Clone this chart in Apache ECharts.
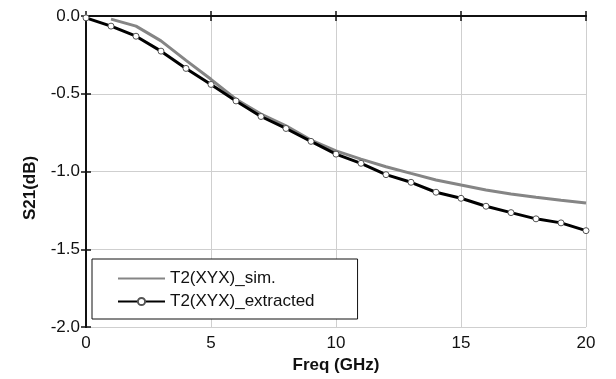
<!DOCTYPE html>
<html>
<head>
<meta charset="utf-8">
<script src="https://cdn.jsdelivr.net/npm/echarts@6/dist/echarts.min.js"></script>
<style>
  html, body { margin: 0; padding: 0; background: #fff; }
  #figure { width: 616px; height: 379px; }
</style>
</head>
<body>
<div id="figure"></div>
<script>
var freqExtracted = [0, 1, 2, 3, 4, 5, 6, 7, 8, 9, 10, 11, 12, 13, 14, 15, 16, 17, 18, 19, 20];
var s21Extracted = [-0.012, -0.065, -0.13, -0.226, -0.337, -0.44, -0.546, -0.646, -0.723, -0.806, -0.888,
    -0.947, -1.02, -1.069, -1.133, -1.172, -1.223, -1.264, -1.304, -1.33, -1.38];

var freqSim = [1, 2, 3, 4, 5, 6, 7, 8, 9, 10, 11, 12, 13, 14, 15, 16, 17, 18, 19, 20];
var s21Sim = [-0.02, -0.065, -0.16, -0.285, -0.407, -0.535, -0.631, -0.706, -0.798, -0.867,
    -0.92, -0.969, -1.012, -1.054, -1.087, -1.119, -1.144, -1.165, -1.185, -1.202];

var seriesNames = ['T2(XYX)_sim.', 'T2(XYX)_extracted'];

function pairs(xs, ys) {
    return xs.map(function(x, i) { return [x, ys[i]]; });
}

var font = 'Liberation Sans';
var frame = { lineStyle: { color: '#111', width: 2 } };
var ticksIn = { show: true, inside: true, length: 5, lineStyle: { color: '#111', width: 1.5 } };

var figure = echarts.init(document.getElementById('figure'));
var option = {
    animation: false,
    backgroundColor: '#fff',
    textStyle: { fontFamily: font },
    grid: { left: 86, right: 30, top: 16, bottom: 51 },
    legend: {
        orient: 'vertical',
        left: 92,
        top: 259,
        padding: [11, 43, 9, 25],
        itemWidth: 47,
        itemHeight: 9,
        itemGap: 6,
        borderColor: '#111',
        borderWidth: 1,
        backgroundColor: '#fff',
        textStyle: { fontSize: 17, color: '#111', fontFamily: font },
        data: [
            { name: seriesNames[0], itemStyle: { opacity: 0 } },
            { name: seriesNames[1] }
        ]
    },
    xAxis: [{
        type: 'value',
        position: 'bottom',
        min: 0,
        max: 20,
        interval: 5,
        name: 'Freq (GHz)',
        nameLocation: 'middle',
        nameGap: 19,
        nameTextStyle: { fontSize: 17, fontWeight: 'bold', color: '#111', fontFamily: font },
        axisLine: frame,
        axisTick: ticksIn,
        axisLabel: { fontSize: 17, color: '#111', margin: 8 },
        splitLine: { show: true, lineStyle: { color: '#cfcfcf', width: 1 } }
    }, {
        type: 'value',
        position: 'top',
        min: 0,
        max: 20,
        interval: 5,
        axisLine: frame,
        axisTick: ticksIn,
        axisLabel: { show: false },
        splitLine: { show: false }
    }],
    yAxis: [{
        type: 'value',
        position: 'left',
        min: -2,
        max: 0,
        interval: 0.5,
        axisLine: frame,
        axisTick: ticksIn,
        axisLabel: {
            fontSize: 17,
            color: '#111',
            margin: 6,
            formatter: function(v) { return v.toFixed(1); }
        },
        splitLine: { show: true, lineStyle: { color: '#cfcfcf', width: 1 } }
    }, {
        type: 'value',
        position: 'right',
        min: -2,
        max: 0,
        interval: 0.5,
        axisLine: frame,
        axisTick: ticksIn,
        axisLabel: { show: false },
        splitLine: { show: false }
    }],
    graphic: [{
        type: 'text',
        x: 30,
        y: 188,
        rotation: Math.PI / 2,
        style: {
            text: 'S21(dB)',
            font: 'bold 17px "Liberation Sans"',
            fill: '#111',
            align: 'center',
            verticalAlign: 'middle'
        }
    }],
    series: [{
        name: seriesNames[0],
        type: 'line',
        symbol: 'none',
        lineStyle: { color: '#858585', width: 3 },
        itemStyle: { color: '#858585' },
        data: pairs(freqSim, s21Sim)
    }, {
        name: seriesNames[1],
        type: 'line',
        symbol: 'circle',
        symbolSize: 6,
        showAllSymbol: true,
        lineStyle: { color: '#000', width: 3 },
        itemStyle: { color: '#fff', borderColor: '#555', borderWidth: 1 },
        data: pairs(freqExtracted, s21Extracted),
        z: 3
    }]
};

figure.setOption(option);
</script>
</body>
</html>
